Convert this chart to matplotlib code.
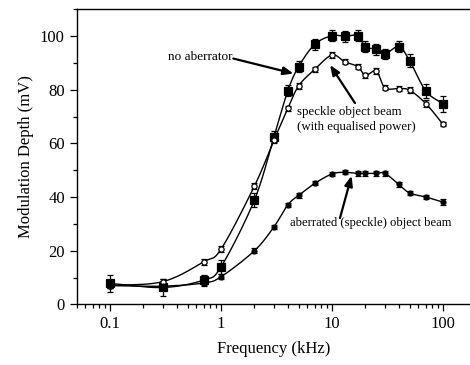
import numpy as np
import matplotlib
matplotlib.use("Agg")
import matplotlib.pyplot as plt
from matplotlib.ticker import MultipleLocator, FixedLocator, NullFormatter

plt.rcParams['font.family'] = ['Liberation Serif', 'DejaVu Serif']

# frequences (kHz)
freq = [0.1, 0.3, 0.7, 1, 2, 3, 4, 5, 7, 10, 13, 17, 20, 25, 30, 40, 50, 70, 100]

# sans aberrateur (carres pleins)
no_ab = [7.8, 6.3, 9.1, 14.0, 38.9, 62.5, 79.6, 88.6, 96.9, 100.1, 99.9, 100.1,
         96.0, 95.0, 93.3, 96.0, 90.8, 79.5, 74.7]
no_ab_err = [3, 3, 2, 2.5, 2.5, 2, 2, 2, 2, 2, 2, 2, 2, 2, 2, 2, 2.5, 2.5, 3]

# speckle, puissance egalisee (cercles vides)
speck = [7.0, 8.5, 15.9, 20.6, 44.1, 61.2, 73.0, 81.4, 87.6, 92.9, 90.4, 88.6,
         85.3, 87.0, 80.7, 80.4, 79.8, 74.8, 67.1]
speck_err = [1, 1, 1.2, 1, 1, 1, 1, 1, 1, 1.2, 1, 1, 1, 1.2, 1, 1, 1.2, 1.2, 0.8]

# aberre (cercles pleins)
aber = [7.0, 6.8, 8.0, 10.3, 20.0, 28.9, 37.1, 40.6, 45.1, 48.6, 49.2, 48.8,
        48.8, 48.8, 48.8, 44.7, 41.5, 40.0, 38.1]
aber_err = [1, 1, 1, 1, 1, 0.8, 0.8, 0.8, 0.8, 0.8, 0.8, 0.8, 0.8, 0.8, 0.8, 0.8, 0.8, 0.8, 1]


def courbe_lisse(x, y, n=20):
    # Catmull-Rom dans l'espace (log x, y)
    lx = np.log10(np.asarray(x, float))
    y = np.asarray(y, float)
    px = np.concatenate([[2*lx[0]-lx[1]], lx, [2*lx[-1]-lx[-2]]])
    py = np.concatenate([[2*y[0]-y[1]], y, [2*y[-1]-y[-2]]])
    xs, ys = [], []
    t = np.linspace(0, 1, n, endpoint=False)
    for i in range(1, len(px)-2):
        for P, out in ((px, xs), (py, ys)):
            p0, p1, p2, p3 = P[i-1], P[i], P[i+1], P[i+2]
            out.extend(0.5*((2*p1) + (-p0+p2)*t + (2*p0-5*p1+4*p2-p3)*t**2
                            + (-p0+3*p1-3*p2+p3)*t**3))
    xs.append(lx[-1]); ys.append(y[-1])
    return 10**np.array(xs), np.array(ys)


fig = plt.figure(figsize=(4.7, 3.65), dpi=100)
ax = fig.add_axes([0.163, 0.166, 0.837, 0.809])

for data, err, mk, fc, ms in [(no_ab, no_ab_err, 's', 'black', 5.5),
                              (speck, speck_err, 'o', 'white', 3.8),
                              (aber, aber_err, 'o', 'black', 3.5)]:
    sx, sy = courbe_lisse(freq, data)
    ax.plot(sx, sy, color='black', lw=1.0, zorder=2)
    ax.errorbar(freq, data, yerr=err, fmt=mk, mfc=fc, mec='black', mew=0.9,
                ms=ms, ecolor='black', elinewidth=0.9, capsize=2.2,
                capthick=0.9, zorder=3)

ax.set_xscale('log')
ax.set_xlim(0.05, 175)
ax.set_ylim(0, 110)
ax.xaxis.set_major_locator(FixedLocator([0.1, 1, 10, 100]))
ax.set_xticklabels(['0.1', '1', '10', '100'])
ax.xaxis.set_minor_locator(FixedLocator([m*10.0**e for e in range(-2, 3)
                                         for m in range(2, 10)]))
ax.xaxis.set_minor_formatter(NullFormatter())
ax.yaxis.set_major_locator(MultipleLocator(20))
ax.yaxis.set_minor_locator(MultipleLocator(10))
ax.tick_params(which='major', direction='out', length=5, width=0.9, labelsize=12)
ax.tick_params(which='minor', direction='out', length=3, width=0.9)
ax.spines['right'].set_visible(False)
for s in ['left', 'top', 'bottom']:
    ax.spines[s].set_linewidth(1.0)

ax.set_xlabel('Frequency (kHz)', fontsize=12, labelpad=6)
ax.set_ylabel('Modulation Depth (mV)', fontsize=12, labelpad=4)

fleche = dict(arrowstyle='-|>,head_length=0.5,head_width=0.2', color='black',
              lw=1.6, mutation_scale=12, shrinkA=0, shrinkB=0)
ax.text(1.27, 92.2, 'no aberrator', fontsize=9.5, ha='right', va='center')
ax.annotate('', xy=(4.5, 86.0), xytext=(1.29, 91.6), arrowprops=fleche)
ax.text(4.84, 69.0, 'speckle object beam\n(with equalised power)',
        fontsize=9.3, ha='left', va='center', linespacing=1.3)
ax.annotate('', xy=(9.6, 89.2), xytext=(16.1, 75.0), arrowprops=fleche)
ax.text(4.2, 30.2, 'aberrated (speckle) object beam', fontsize=9.1,
        ha='left', va='center')
ax.annotate('', xy=(15.0, 47.9), xytext=(11.8, 32.2), arrowprops=fleche)

fig.savefig('out.png', dpi=100)
